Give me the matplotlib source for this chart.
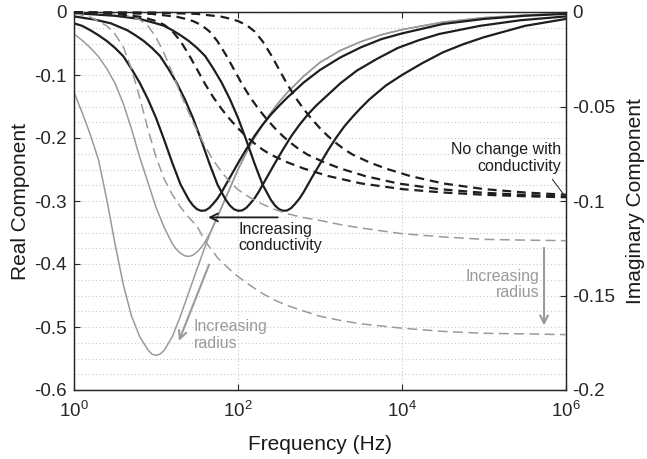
import numpy as np
import matplotlib
matplotlib.use("Agg")
import matplotlib.pyplot as plt
from matplotlib.ticker import FixedLocator, FuncFormatter, MultipleLocator, NullLocator

plt.rcParams['font.family'] = ['Liberation Sans', 'DejaVu Sans']
plt.rcParams['axes.unicode_minus'] = False
plt.rcParams['mathtext.fontset'] = 'custom'
plt.rcParams['mathtext.rm'] = 'Liberation Sans'

# ---------------- data (log10 of frequency in Hz, response) ----------------
# Black solid curves (real component, left axis), three conductivities
b1_logf = [0, 0.1, 0.2, 0.3, 0.4, 0.5, 0.6, 0.7, 0.8, 0.9, 1.0, 1.1, 1.2, 1.3, 1.4,
           1.45, 1.5, 1.55, 1.6, 1.65, 1.7, 1.75, 1.8, 1.9, 2.0, 2.1, 2.2, 2.3, 2.4,
           2.5, 2.6, 2.8, 3.0, 3.25, 3.5, 3.75, 4.0, 4.5, 5.0, 5.5, 6.0]
b1_val = [-0.018, -0.022, -0.029, -0.037, -0.046, -0.057, -0.07, -0.09, -0.112, -0.138,
          -0.168, -0.203, -0.24, -0.274, -0.298, -0.307, -0.313, -0.3155, -0.315, -0.311,
          -0.304, -0.296, -0.286, -0.263, -0.24, -0.218, -0.197, -0.179, -0.163, -0.149,
          -0.136, -0.112, -0.092, -0.072, -0.056, -0.043, -0.034, -0.019, -0.011,
          -0.006, -0.003]
b2_logf = [0, 0.25, 0.45, 0.65, 0.75, 0.85, 0.95, 1.05, 1.15, 1.25, 1.35, 1.45, 1.55,
           1.65, 1.75, 1.85, 1.9, 1.95, 2.0, 2.05, 2.1, 2.15, 2.2, 2.25, 2.35, 2.45,
           2.55, 2.65, 2.75, 2.85, 2.95, 3.05, 3.25, 3.45, 3.7, 3.95, 4.2, 4.45, 4.95,
           5.45, 6.0]
b2_val = [-0.007, -0.012, -0.018, -0.029, -0.037, -0.046, -0.057, -0.07, -0.09, -0.112,
          -0.138, -0.168, -0.203, -0.24, -0.274, -0.298, -0.307, -0.313, -0.3155, -0.315,
          -0.311, -0.304, -0.296, -0.286, -0.263, -0.24, -0.218, -0.197, -0.179, -0.163,
          -0.149, -0.137, -0.113, -0.093, -0.074, -0.057, -0.045, -0.035, -0.022,
          -0.013, -0.007]
b3_logf = [0, 0.5, 0.8, 1.0, 1.1, 1.2, 1.3, 1.4, 1.5, 1.6, 1.7, 1.8, 1.9, 2.0, 2.1,
           2.2, 2.3, 2.4, 2.45, 2.5, 2.55, 2.6, 2.65, 2.7, 2.75, 2.8, 2.9, 3.0, 3.1,
           3.2, 3.3, 3.4, 3.5, 3.6, 3.8, 4.0, 4.25, 4.5, 4.75, 5.0, 5.5, 6.0]
b3_val = [-0.0018, -0.006, -0.011, -0.018, -0.022, -0.029, -0.037, -0.046, -0.057,
          -0.07, -0.09, -0.112, -0.138, -0.168, -0.203, -0.24, -0.274, -0.298, -0.307,
          -0.313, -0.3155, -0.315, -0.311, -0.304, -0.296, -0.286, -0.263, -0.241,
          -0.219, -0.199, -0.181, -0.166, -0.152, -0.139, -0.117, -0.1, -0.081, -0.064,
          -0.051, -0.04, -0.022, -0.011]

# Black dashed curves (imaginary component, right axis)
d1_logf = [0, 0.5, 0.8, 0.9, 1.0, 1.1, 1.2, 1.3, 1.4, 1.5, 1.6, 1.7, 1.8, 1.9, 2.0,
           2.1, 2.2, 2.3, 2.4, 2.6, 2.8, 3.1, 3.5, 4.0, 4.5, 5.0, 5.5, 6.0]
d1_val = [-0.0003, -0.001, -0.0025, -0.0035, -0.0048, -0.0068, -0.0102, -0.0155,
          -0.0225, -0.0303, -0.0382, -0.0452, -0.0513, -0.0567, -0.0615, -0.0658,
          -0.0695, -0.0728, -0.0755, -0.0795, -0.0828, -0.0868, -0.0907, -0.0937,
          -0.0955, -0.0967, -0.0975, -0.098]
d2_logf = [0, 0.5, 0.95, 1.25, 1.35, 1.45, 1.55, 1.65, 1.75, 1.85, 1.95, 2.05, 2.15,
           2.25, 2.35, 2.45, 2.55, 2.65, 2.75, 2.85, 3.05, 3.25, 3.55, 3.95, 4.45, 4.95,
           5.45, 6.0]
d2_val = [-0.0002, -0.0005, -0.001, -0.0025, -0.0035, -0.0048, -0.0068, -0.0102,
          -0.0155, -0.0225, -0.0303, -0.0382, -0.0452, -0.0513, -0.0567, -0.0615,
          -0.0658, -0.0695, -0.0728, -0.0755, -0.0795, -0.0828, -0.0868, -0.0907,
          -0.0937, -0.0955, -0.0967, -0.0977]
d3_logf = [0, 0.5, 1.0, 1.5, 1.8, 1.9, 2.0, 2.1, 2.2, 2.3, 2.4, 2.5, 2.6, 2.7, 2.8,
           2.9, 3.0, 3.1, 3.2, 3.3, 3.4, 3.6, 3.8, 4.1, 4.5, 5.0, 5.5, 6.0]
d3_val = [-0.0001, -0.0002, -0.0003, -0.001, -0.0025, -0.0035, -0.0048, -0.0068,
          -0.0102, -0.0155, -0.0225, -0.0303, -0.0382, -0.0452, -0.0513, -0.0567,
          -0.0615, -0.0658, -0.0695, -0.0728, -0.0755, -0.0795, -0.0828, -0.0868,
          -0.0907, -0.0937, -0.0955, -0.0967]

# Gray solid curves (real component, increasing radius)
ga_logf = [0, 0.1, 0.2, 0.3, 0.4, 0.5, 0.6, 0.7, 0.8, 0.9, 0.95, 1.0, 1.05, 1.1, 1.2,
           1.3, 1.4, 1.5, 1.6, 1.68, 1.8, 1.9, 2.0, 2.1, 2.2, 2.3, 2.4, 2.5, 2.6, 2.8,
           3.0, 3.25, 3.5, 3.75, 4.0, 4.5, 5.0, 5.5, 6.0]
ga_val = [-0.127, -0.16, -0.195, -0.235, -0.298, -0.368, -0.432, -0.482, -0.515, -0.536,
          -0.543, -0.545, -0.543, -0.537, -0.515, -0.482, -0.445, -0.408, -0.372,
          -0.345, -0.31, -0.28, -0.25, -0.224, -0.2, -0.179, -0.16, -0.143, -0.128,
          -0.102, -0.08, -0.061, -0.047, -0.036, -0.028, -0.016, -0.009, -0.005, -0.002]
gb_logf = [0, 0.1, 0.2, 0.3, 0.4, 0.5, 0.6, 0.7, 0.8, 0.9, 1.0, 1.1, 1.2, 1.25, 1.3,
           1.35, 1.4, 1.45, 1.5, 1.55, 1.6, 1.68, 1.8, 1.9, 2.0, 2.1, 2.2, 2.3, 2.4,
           2.5, 2.6, 2.8, 3.0, 3.25, 3.5, 3.75, 4.0, 4.5, 5.0, 5.5, 6.0]
gb_val = [-0.035, -0.045, -0.057, -0.071, -0.09, -0.113, -0.145, -0.185, -0.23, -0.27,
          -0.31, -0.342, -0.368, -0.377, -0.383, -0.387, -0.388, -0.386, -0.381,
          -0.374, -0.365, -0.345, -0.31, -0.28, -0.25, -0.224, -0.2, -0.179, -0.16,
          -0.143, -0.128, -0.102, -0.08, -0.061, -0.047, -0.036, -0.028, -0.016,
          -0.009, -0.005, -0.002]

# Gray dashed curves (imaginary component, right axis)
g1_logf = [0, 0.6, 0.8, 0.9, 1.0, 1.1, 1.2, 1.3, 1.4, 1.5, 1.6, 1.7, 1.8, 1.9, 2.0,
           2.15, 2.3, 2.45, 2.6, 2.8, 3.0, 3.25, 3.5, 4.0, 4.5, 5.0, 5.5, 6.0]
g1_val = [-0.0003, -0.0013, -0.004, -0.0073, -0.0133, -0.022, -0.0323, -0.0433, -0.0533,
          -0.0627, -0.0712, -0.0785, -0.0847, -0.0898, -0.094, -0.0983, -0.1017,
          -0.1045, -0.1067, -0.1088, -0.1103, -0.1125, -0.1143, -0.1173, -0.119,
          -0.1203, -0.1207, -0.121]
g2_logf = [0, 0.2, 0.4, 0.5, 0.6, 0.7, 0.8, 0.9, 1.0, 1.1, 1.2, 1.3, 1.4, 1.5, 1.6,
           1.75, 1.9, 2.0, 2.15, 2.3, 2.45, 2.6, 2.8, 3.0, 3.25, 3.5, 4.0, 4.5, 5.0, 5.5,
           6.0]
g2_val = [-0.0007, -0.0027, -0.0073, -0.0117, -0.0183, -0.03, -0.045, -0.0617, -0.0767,
          -0.0883, -0.0967, -0.1033, -0.1087, -0.1133, -0.1213, -0.13, -0.1363, -0.14,
          -0.1447, -0.149, -0.1525, -0.1553, -0.1582, -0.161, -0.1632, -0.165, -0.1673,
          -0.169, -0.17, -0.1703, -0.1707]

x_ticks = [1, 1e2, 1e4, 1e6]
left_ticks = [0, -0.1, -0.2, -0.3, -0.4, -0.5, -0.6]
right_ticks = [0, -0.05, -0.1, -0.15, -0.2]

# ---------------- figure ----------------
BLACK = '#1e1e1e'
GRAY = '#9a9a9a'

fig = plt.figure(figsize=(6.47, 4.59), dpi=100)
ax = fig.add_axes([74 / 647, 1 - 390 / 459, (566 - 74) / 647, (390 - 12) / 459])
ax2 = ax.twinx()

def hz(lst):
    return 10 ** np.asarray(lst, dtype=float)

ax.plot(hz(ga_logf), ga_val, color=GRAY, lw=1.1, zorder=3)
ax.plot(hz(gb_logf), gb_val, color=GRAY, lw=1.1, zorder=3)
for lf, v in [(b1_logf, b1_val), (b2_logf, b2_val), (b3_logf, b3_val)]:
    ax.plot(hz(lf), v, color=BLACK, lw=1.6, zorder=4)

for lf, v in [(g1_logf, g1_val), (g2_logf, g2_val)]:
    ax2.plot(hz(lf), v, color=GRAY, lw=1.1, dashes=(6.5, 3.5), zorder=3)
for lf, v in [(d1_logf, d1_val), (d2_logf, d2_val), (d3_logf, d3_val)]:
    ax2.plot(hz(lf), v, color=BLACK, lw=1.6, dashes=(4, 2.6), zorder=4, clip_on=False)

ax.set_xscale('log')
ax.set_xlim(1, 1e6)
ax.set_ylim(-0.6, 0)
ax2.set_ylim(-0.2, 0)

ax.xaxis.set_major_locator(FixedLocator(x_ticks))
ax.xaxis.set_minor_locator(NullLocator())
ax.yaxis.set_major_locator(FixedLocator(left_ticks))
ax.yaxis.set_minor_locator(MultipleLocator(0.025))
ax2.yaxis.set_major_locator(FixedLocator(right_ticks))
fmt = FuncFormatter(lambda v, p: '%g' % v)
ax.yaxis.set_major_formatter(fmt)
ax2.yaxis.set_major_formatter(fmt)

ax.grid(axis='y', which='both', color='#c8c8c8', lw=0.8, linestyle=(0, (1, 2.2)))
ax.grid(axis='x', which='major', color='#c8c8c8', lw=0.8, linestyle=(0, (1, 2.2)))
ax.set_axisbelow(True)

ax.tick_params(axis='both', which='major', direction='in', length=4, width=0.8,
               labelsize=13.5, colors='#262626', top=True)
ax.tick_params(axis='y', which='minor', length=0)
ax.tick_params(axis='x', pad=8)
ax.tick_params(axis='y', pad=5)
ax2.tick_params(axis='y', direction='in', length=4, width=0.8, labelsize=13.5,
                colors='#262626', pad=4.5)
for a in (ax, ax2):
    for s in a.spines.values():
        s.set_color('#262626')
        s.set_linewidth(0.9)

ax.set_xlabel('Frequency (Hz)', fontsize=15, color='#1a1a1a', labelpad=10)
ax.set_ylabel('Real Component', fontsize=15, color='#1a1a1a', labelpad=3)
ax2.set_ylabel('Imaginary Component', fontsize=15, color='#1a1a1a', labelpad=8)

# ---------------- annotations ----------------
ax.annotate('', xy=(40, -0.326), xytext=(330, -0.326),
            arrowprops=dict(arrowstyle='->', color=BLACK, lw=1.3, mutation_scale=14))
ax.text(100, -0.333, 'Increasing\nconductivity', fontsize=11.5, color=BLACK,
        ha='left', va='top', linespacing=1.1)

ax.text(8.7e5, -0.207, 'No change with\nconductivity', fontsize=11.5, color=BLACK,
        ha='right', va='top', linespacing=1.1)
ax.annotate('', xy=(1e6 * 0.98, -0.293), xytext=(6.5e5, -0.262),
            arrowprops=dict(arrowstyle='-', color=BLACK, lw=0.7))

ax.annotate('', xy=(18.5, -0.526), xytext=(45.6, -0.397),
            arrowprops=dict(arrowstyle='->', color=GRAY, lw=1.5, mutation_scale=14))
ax.text(29, -0.488, 'Increasing\nradius', fontsize=11.5, color=GRAY,
        ha='left', va='top', linespacing=1.1)

ax.annotate('', xy=(5.4e5, -0.502), xytext=(5.4e5, -0.370),
            arrowprops=dict(arrowstyle='->', color=GRAY, lw=1.5, mutation_scale=14))
ax.text(4.7e5, -0.408, 'Increasing\nradius', fontsize=11.5, color=GRAY,
        ha='right', va='top', linespacing=1.1)

fig.savefig('out.png', dpi=100)
